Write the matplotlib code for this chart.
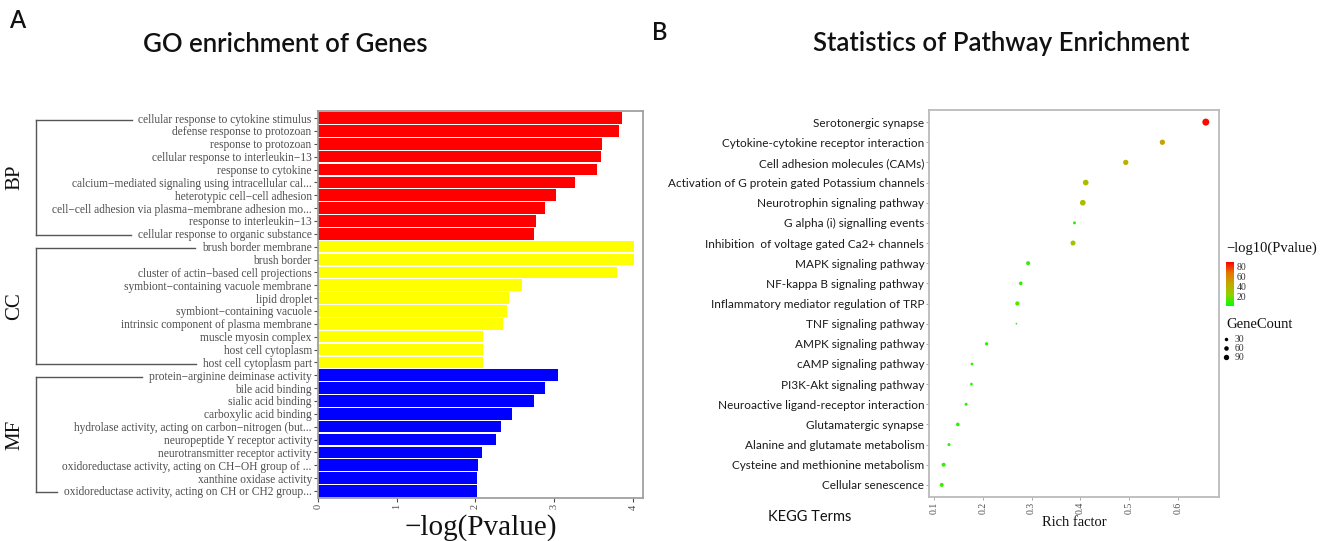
import matplotlib
matplotlib.use('Agg')
import matplotlib.pyplot as plt
import numpy as np
from matplotlib.colors import LinearSegmentedColormap, Normalize
from matplotlib.lines import Line2D

# ---------------- data: panel A (GO enrichment) ----------------
bp_terms = ["cellular response to cytokine stimulus", "defense response to protozoan",
            "response to protozoan", "cellular response to interleukin\u221213",
            "response to cytokine", "calcium\u2212mediated signaling using intracellular cal...",
            "heterotypic cell\u2212cell adhesion", "cell\u2212cell adhesion via plasma\u2212membrane adhesion mo...",
            "response to interleukin\u221213", "cellular response to organic substance"]
bp_vals = [3.86, 3.83, 3.61, 3.59, 3.54, 3.26, 3.03, 2.89, 2.77, 2.74]

cc_terms = ["brush border membrane", "brush border", "cluster of actin\u2212based cell projections",
            "symbiont\u2212containing vacuole membrane", "lipid droplet", "symbiont\u2212containing vacuole",
            "intrinsic component of plasma membrane", "muscle myosin complex", "host cell cytoplasm",
            "host cell cytoplasm part"]
cc_vals = [4.02, 4.01, 3.80, 2.59, 2.43, 2.40, 2.35, 2.10, 2.10, 2.10]

mf_terms = ["protein\u2212arginine deiminase activity", "bile acid binding", "sialic acid binding",
            "carboxylic acid binding", "hydrolase activity, acting on carbon\u2212nitrogen (but...",
            "neuropeptide Y receptor activity", "neurotransmitter receptor activity",
            "oxidoreductase activity, acting on CH\u2212OH group of ...", "xanthine oxidase activity",
            "oxidoreductase activity, acting on CH or CH2 group..."]
mf_vals = [3.05, 2.88, 2.74, 2.46, 2.33, 2.26, 2.09, 2.03, 2.02, 2.02]

groups = ["BP", "CC", "MF"]
group_colors = ["#FF0000", "#FFFF00", "#0000FF"]
go_xticks = [0, 1, 2, 3, 4]

# ---------------- data: panel B (KEGG) ----------------
kegg_terms = ["Serotonergic synapse", "Cytokine-cytokine receptor interaction",
              "Cell adhesion molecules (CAMs)", "Activation of G protein gated Potassium channels",
              "Neurotrophin signaling pathway", "G alpha (i) signalling events",
              "Inhibition  of voltage gated Ca2+ channels", "MAPK signaling pathway",
              "NF-kappa B signaling pathway", "Inflammatory mediator regulation of TRP",
              "TNF signaling pathway", "AMPK signaling pathway", "cAMP signaling pathway",
              "PI3K-Akt signaling pathway", "Neuroactive ligand-receptor interaction",
              "Glutamatergic synapse", "Alanine and glutamate metabolism",
              "Cysteine and methionine metabolism", "Cellular senescence"]
rich_factor = [0.657, 0.568, 0.493, 0.411, 0.405, 0.388, 0.385, 0.293, 0.278, 0.271,
               0.269, 0.208, 0.178, 0.177, 0.166, 0.149, 0.131, 0.120, 0.116]
neg_log10_p = [87, 48, 41, 37, 37, 8, 32, 10, 9, 15, 6, 9, 8, 8, 8, 10, 8, 10, 10]
gene_count = [168, 88, 88, 104, 104, 20, 76, 44, 35, 52, 3, 26, 15, 15, 20, 35, 20, 44, 44]
kegg_xticks = [0.1, 0.2, 0.3, 0.4, 0.5, 0.6]
cbar_ticks = [20, 40, 60, 80]
size_legend = [30, 60, 90]

# ---------------- figure ----------------
W, H = 1320, 541
fig = plt.figure(figsize=(W / 100, H / 100), dpi=100)

def fx(px):
    return px / W

def fy(py):
    return 1 - py / H

SERIF = "Liberation Serif"
SANS = "Lato"
GRAY = "#4d4d4d"

# ---------- panel A ----------
ax1 = fig.add_axes([fx(318), fy(498), (643 - 318) / W, (498 - 111) / H])
terms = bp_terms + cc_terms + mf_terms
vals = bp_vals + cc_vals + mf_vals
colors = [group_colors[0]] * len(bp_terms) + [group_colors[1]] * len(cc_terms) + [group_colors[2]] * len(mf_terms)
ypos = np.arange(len(terms))
ax1.barh(ypos, vals, height=0.9, color=colors, edgecolor="none")
ax1.set_ylim(len(terms) - 0.45, -0.55)
ax1.set_xlim(0, 4.13)
ax1.set_yticks(ypos)
ax1.set_yticklabels(terms, fontsize=8.3, family=SERIF, color=GRAY)
ax1.set_xticks(go_xticks)
ax1.set_xticklabels([str(t) for t in go_xticks], rotation=90, fontsize=7.5, family=SERIF, color=GRAY)
ax1.tick_params(axis="both", length=3, width=0.8, color=GRAY, pad=1.5)
for sp in ax1.spines.values():
    sp.set_color("#a0a0a0")
    sp.set_linewidth(1.3)
ax1.set_xlabel("\u2212log(Pvalue)", fontsize=21, family=SERIF, color="#111111", labelpad=3)

# ---------- panel B ----------
ax2 = fig.add_axes([fx(929), fy(497), (1219 - 929) / W, (497 - 110) / H])
cmap = LinearSegmentedColormap.from_list(
    "gr", [(0.0, "#00FF00"), (0.25, "#8CD200"), (0.5, "#C2AA00"), (0.75, "#E27800"), (1.0, "#FF0000")])
norm = Normalize(2, 89)

def count_to_s(c):
    d_px = 0.9 + 0.47 * np.sqrt(np.asarray(c, dtype=float))
    return (d_px * 0.72) ** 2

kpos = np.arange(len(kegg_terms))
ax2.scatter(rich_factor, kpos, s=count_to_s(gene_count), c=neg_log10_p, cmap=cmap, norm=norm,
            linewidths=0, zorder=3)
ax2.set_ylim(len(kegg_terms) - 0.4, -0.6)
ax2.set_xlim(0.09, 0.684)
ax2.set_yticks(kpos)
ax2.set_yticklabels(kegg_terms, fontsize=8.45, family=SANS, color="#1a1a1a")
ax2.set_xticks(kegg_xticks)
ax2.set_xticklabels([f"{t:.1f}" for t in kegg_xticks], rotation=90, fontsize=7, family=SERIF, color=GRAY)
ax2.tick_params(axis="both", length=2, width=0.5, color="#888888", pad=1.5)
for sp in ax2.spines.values():
    sp.set_color("#bbbbbb")
    sp.set_linewidth(1.3)
ax2.set_xlabel("Rich factor", fontsize=10.5, family=SERIF, color="#111111", labelpad=1)

# colorbar legend
cax = fig.add_axes([fx(1226), fy(306), 8 / W, 44 / H])
sm = plt.cm.ScalarMappable(norm=norm, cmap=cmap)
cb = fig.colorbar(sm, cax=cax)
cb.set_ticks(cbar_ticks)
cb.outline.set_visible(False)
cax.tick_params(length=0, labelsize=7, pad=2)
for t in cax.get_yticklabels():
    t.set_family(SERIF)
    t.set_color("#333333")
fig.text(fx(1226), fy(248), "\u2212log10(Pvalue)", ha="left", va="center", fontsize=10.5,
         family=SERIF, color="#111111")
fig.text(fx(1226), fy(325), "GeneCount", ha="left", va="center", fontsize=10.5,
         family=SERIF, color="#111111")

handles = [Line2D([], [], ls="", marker="o", color="black", markeredgewidth=0,
                  markersize=np.sqrt(count_to_s(c))) for c in size_legend]
leg = fig.legend(handles, [str(c) for c in size_legend], loc="upper left",
                 bbox_to_anchor=(fx(1222), fy(335)), frameon=False,
                 prop={"family": SERIF, "size": 7}, labelspacing=0.0, handlelength=0.8,
                 handletextpad=0.5, borderpad=0, borderaxespad=0)
for t in leg.get_texts():
    t.set_color("#333333")

# ---------- titles ----------
fig.text(fx(285.5), fy(44), "GO enrichment of Genes", ha="center", va="center",
         fontsize=18.5, family=SANS, weight="semibold", color="#111111")
fig.text(fx(1001), fy(44), "Statistics of Pathway Enrichment", ha="center", va="center",
         fontsize=18.5, family=SANS, weight="semibold", color="#111111")
fig.text(fx(17), fy(20), "A", ha="center", va="center", fontsize=17, family=SANS,
         weight="semibold", color="#111111")
fig.text(fx(660), fy(33), "B", ha="center", va="center", fontsize=17, family=SANS,
         weight="semibold", color="#111111")
fig.text(fx(810), fy(517), "KEGG Terms", ha="center", va="center", fontsize=10.5, family=SANS,
         color="#111111")

# ---------- group brackets ----------
fig.canvas.draw()
renderer = fig.canvas.get_renderer()
labels = ax1.get_yticklabels()
sizes = [len(bp_terms), len(cc_terms), len(mf_terms)]
start = 0
xv = 36
for g, n in zip(groups, sizes):
    top = labels[start].get_window_extent(renderer)
    bot = labels[start + n - 1].get_window_extent(renderer)
    yt = (top.y0 + top.y1) / 2
    yb = (bot.y0 + bot.y1) / 2
    kw = dict(transform=None, color="#555555", lw=1.0)
    fig.add_artist(Line2D([xv, xv], [yt, yb], **kw))
    fig.add_artist(Line2D([xv, top.x0 - 7], [yt, yt], **kw))
    fig.add_artist(Line2D([xv, bot.x0 - 7], [yb, yb], **kw))
    fig.text(fx(15), (yt + yb) / 2 / H, g, rotation=90, ha="center", va="center",
             fontsize=15, family=SERIF, color="#111111")
    start += n

fig.savefig("out.png", dpi=100)
